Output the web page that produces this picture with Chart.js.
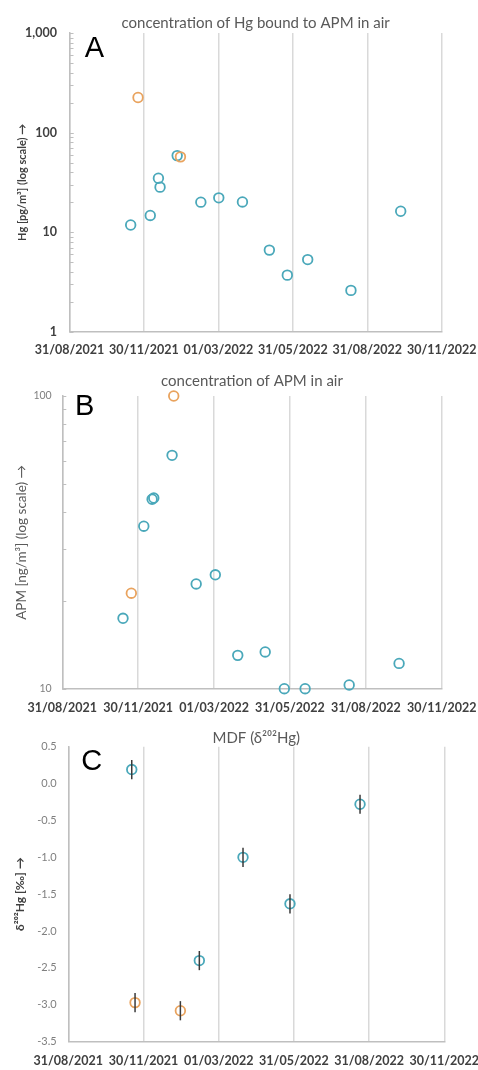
<!DOCTYPE html>
<html>
<head>
<meta charset="utf-8">
<script src="https://cdn.jsdelivr.net/npm/chart.js@4.4.0/dist/chart.umd.min.js"></script>
<style>
    body { margin: 0; background: #fff; }
    canvas { position: absolute; left: 0; }
</style>
</head>
<body>
<canvas id="chartA" width="478" height="360" style="top:0px"></canvas>
<canvas id="chartB" width="478" height="355" style="top:360px"></canvas>
<canvas id="chartC" width="478" height="355" style="top:715px"></canvas>
<script>
// x values are days after 31/08/2021 (start of the date axis, major unit 91.25 days)
var tickDays = [0, 91.25, 182.5, 273.75, 365, 456.25];
var tickLabels = ['31/08/2021', '30/11/2021', '01/03/2022', '31/05/2022', '31/08/2022', '30/11/2022'];

// A - Hg bound to APM [pg/m3]
var hgDays = [75, 99, 109, 111, 132, 161, 183, 212, 245, 267, 292, 345, 406];
var hgValues = [11.8, 14.7, 34.8, 28.3, 58.7, 20.0, 22.1, 20.1, 6.6, 3.7, 5.3, 2.6, 16.2];
var hgOrangeDays = [84, 136];
var hgOrangeValues = [225, 57];
var hgTicks = [1, 10, 100, 1000];
var hgTickLabels = ['1', '10', '100', '1,000'];

// B - APM [ng/m3]
var apmDays = [73, 98, 108, 110, 132, 161, 184, 211, 244, 267, 292, 345, 405];
var apmValues = [17.4, 35.9, 44.4, 44.8, 62.7, 22.8, 24.5, 13.0, 13.35, 10.0, 10.0, 10.3, 12.2];
var apmOrangeDays = [83, 134];
var apmOrangeValues = [21.2, 100];
var apmTicks = [10, 100];
var apmTickLabels = ['10', '100'];

// C - MDF, d202Hg [permil] with 2SD
var mdfDays = [77, 159, 212, 269, 354];
var mdfValues = [0.19, -2.40, -1.00, -1.63, -0.28];
var mdfErrors = [0.13, 0.13, 0.13, 0.13, 0.13];
var mdfOrangeDays = [81, 136];
var mdfOrangeValues = [-2.97, -3.08];
var mdfOrangeErrors = [0.13, 0.13];

var teal = '#4aa8ba';
var orange = '#e9a35e';
var fontName = 'Lato, "Open Sans", sans-serif';

function points(days, values) {
    var out = [];
    for (var i = 0; i < days.length; i++) {
        out.push({ x: days[i], y: values[i] });
    }
    return out;
}

function circles(days, values, color, errors) {
    return {
        data: points(days, values),
        errors: errors,
        borderColor: color,
        backgroundColor: 'rgba(0,0,0,0)',
        pointRadius: 4.8,
        pointHoverRadius: 4.8,
        pointBorderWidth: 1.8,
        showLine: false,
        clip: false
    };
}

// big panel letter in the top left corner of the plot
var panelLetter = {
    id: 'panelLetter',
    afterDraw: function (chart, args, opts) {
        var a = chart.chartArea, ctx = chart.ctx;
        ctx.save();
        ctx.font = '29px "Liberation Sans", Arial, sans-serif';
        ctx.fillStyle = '#000';
        ctx.textAlign = 'center';
        ctx.textBaseline = 'alphabetic';
        ctx.fillText(opts.text, a.left + opts.dx, a.top + opts.dy);
        ctx.restore();
    }
};

// small inside tick marks on the log axes
var minorTicks = {
    id: 'minorTicks',
    afterDraw: function (chart) {
        var y = chart.scales.y, ctx = chart.ctx, x0 = chart.chartArea.left;
        if (y.type !== 'logarithmic') return;
        ctx.save();
        ctx.strokeStyle = '#bfbfbf';
        ctx.lineWidth = 1;
        for (var d = y.min; d < y.max; d *= 10) {
            for (var m = 1; m <= 10; m++) {
                var py = Math.round(y.getPixelForValue(d * m)) + 0.5;
                ctx.beginPath();
                ctx.moveTo(x0, py);
                ctx.lineTo(x0 + 4, py);
                ctx.stroke();
            }
        }
        ctx.restore();
    }
};

// vertical error bars for panel C
var errorBars = {
    id: 'errorBars',
    afterDatasetsDraw: function (chart) {
        var ctx = chart.ctx, y = chart.scales.y;
        chart.data.datasets.forEach(function (ds, i) {
            if (!ds.errors) return;
            var meta = chart.getDatasetMeta(i);
            ctx.save();
            ctx.strokeStyle = '#3a3a3a';
            ctx.lineWidth = 1.5;
            ds.data.forEach(function (p, j) {
                var px = meta.data[j].x;
                ctx.beginPath();
                ctx.moveTo(px, y.getPixelForValue(p.y - ds.errors[j]));
                ctx.lineTo(px, y.getPixelForValue(p.y + ds.errors[j]));
                ctx.stroke();
            });
            ctx.restore();
        });
    }
};

function makeChart(id, cfg) {
    var ctx = document.getElementById(id).getContext('2d');
    var canvasH = document.getElementById(id).height;
    var yScale = cfg.y;
    yScale.afterFit = function (s) {
        s.width = cfg.left;
        s.paddingTop = 0;
        s.paddingBottom = 0;
    };
    yScale.grid = { display: false, drawTicks: false };
    yScale.border = { display: true, color: '#bfbfbf', width: 1.5 };
    return new Chart(ctx, {
        type: 'scatter',
        data: { datasets: cfg.datasets },
        plugins: [panelLetter, minorTicks, errorBars],
        options: {
            responsive: false,
            animation: false,
            layout: { padding: { left: 0, right: 478 - cfg.right, top: 0, bottom: 0 } },
            plugins: {
                legend: { display: false },
                tooltip: { enabled: false },
                title: {
                    display: true,
                    text: cfg.title,
                    color: '#595959',
                    fullSize: false,
                    font: { family: fontName, size: 15, weight: 'normal', lineHeight: 1.2 },
                    padding: cfg.titlePad
                },
                panelLetter: cfg.letter
            },
            scales: {
                x: {
                    type: 'linear',
                    min: 0,
                    max: 456.25,
                    afterBuildTicks: function (s) {
                        s.ticks = tickDays.map(function (v) { return { value: v }; });
                    },
                    afterFit: function (s) {
                        s.height = canvasH - cfg.bottom;
                        s.paddingLeft = 0;
                        s.paddingRight = 0;
                    },
                    ticks: {
                        autoSkip: false,
                        maxRotation: 0,
                        padding: cfg.xPad,
                        color: '#404040',
                        font: { family: fontName, size: 12.5, weight: 'bold' },
                        callback: function (v, i) { return tickLabels[i]; }
                    },
                    grid: { color: '#d9d9d9', lineWidth: 1.5, drawTicks: false },
                    border: { display: true, color: '#bfbfbf', width: 1.5 }
                },
                y: yScale
            }
        }
    });
}

makeChart('chartA', {
    left: 69.5, right: 441.7, bottom: 331.7, xPad: 11,
    title: 'concentration of Hg bound to APM in air',
    titlePad: { top: 14, bottom: 1 },
    letter: { text: 'A', dx: 25, dy: 23.5 },
    datasets: [
        circles(hgOrangeDays, hgOrangeValues, orange),
        circles(hgDays, hgValues, teal)
    ],
    y: {
        type: 'logarithmic',
        min: 1,
        max: 1000,
        afterBuildTicks: function (s) {
            s.ticks = hgTicks.map(function (v) { return { value: v }; });
        },
        ticks: {
            autoSkip: false,
            padding: 12.5,
            color: '#404040',
            font: { family: fontName, size: 12.5, weight: 'bold' },
            callback: function (v, i) { return hgTickLabels[i]; }
        },
        title: {
            display: true,
            text: 'Hg [pg/m³] (log scale) →',
            color: '#404040',
            font: { family: fontName, size: 11, weight: 'bold' },
            padding: { top: 15.4, bottom: 0 }
        }
    }
});

makeChart('chartB', {
    left: 62.3, right: 441.7, bottom: 328.7, xPad: 12,
    title: 'concentration of APM in air',
    titlePad: { top: 11.7, bottom: 6.3 },
    letter: { text: 'B', dx: 22.4, dy: 19 },
    datasets: [
        circles(apmOrangeDays, apmOrangeValues, orange),
        circles(apmDays, apmValues, teal)
    ],
    y: {
        type: 'logarithmic',
        min: 10,
        max: 100,
        afterBuildTicks: function (s) {
            s.ticks = apmTicks.map(function (v) { return { value: v }; });
        },
        ticks: {
            autoSkip: false,
            padding: 10.6,
            color: '#7f7f7f',
            font: { family: fontName, size: 10.5, weight: 'normal' },
            callback: function (v, i) { return apmTickLabels[i]; }
        },
        title: {
            display: true,
            text: 'APM [ng/m³] (log scale) →',
            color: '#595959',
            font: { family: fontName, size: 13.5, weight: 'normal' },
            padding: { top: 13.6, bottom: 0 }
        }
    }
});

makeChart('chartC', {
    left: 68.3, right: 444.3, bottom: 326.7, xPad: 12,
    title: 'MDF (δ²⁰²Hg)',
    titlePad: { top: 13.7, bottom: 0 },
    letter: { text: 'C', dx: 23.4, dy: 23 },
    datasets: [
        circles(mdfOrangeDays, mdfOrangeValues, orange, mdfOrangeErrors),
        circles(mdfDays, mdfValues, teal, mdfErrors)
    ],
    y: {
        type: 'linear',
        min: -3.5,
        max: 0.5,
        ticks: {
            stepSize: 0.5,
            padding: 11.6,
            color: '#7f7f7f',
            font: { family: fontName, size: 11, weight: 'normal' },
            callback: function (v) { return v.toFixed(1); }
        },
        title: {
            display: true,
            text: 'δ²⁰²Hg [‰] →',
            color: '#404040',
            font: { family: fontName, size: 12, weight: 'bold' },
            padding: { top: 12.8, bottom: 0 }
        }
    }
});
</script>
</body>
</html>
